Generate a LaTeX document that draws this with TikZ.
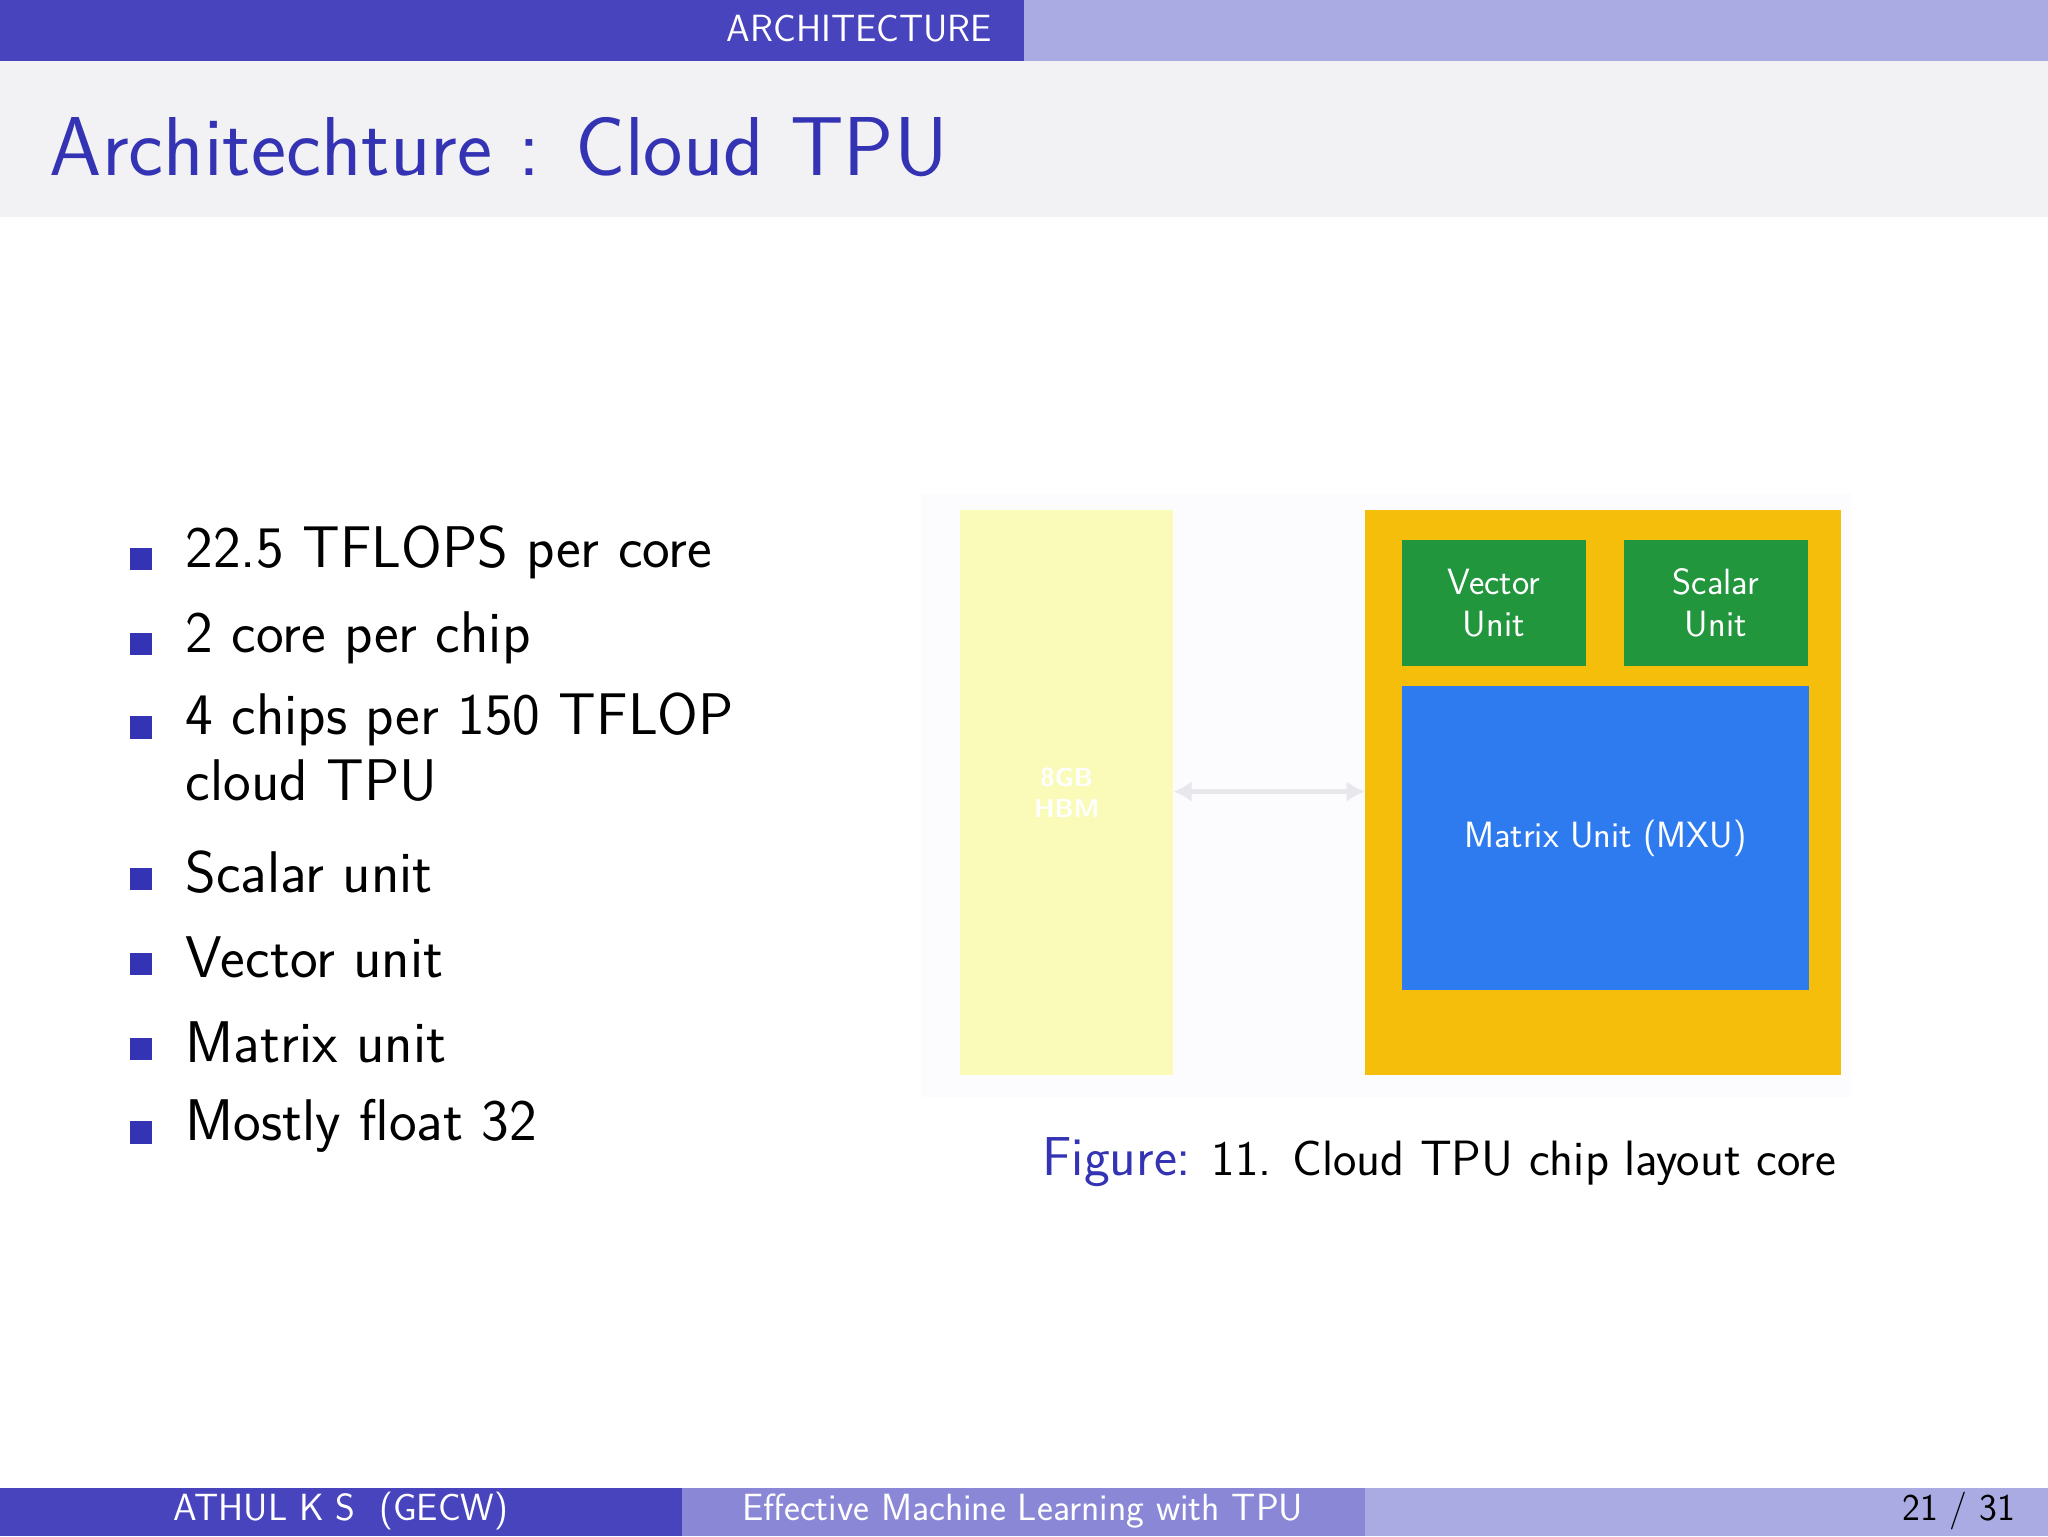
\documentclass[tikz,border=0pt]{standalone}
\usepackage{fontspec}
\setsansfont{Latin Modern Sans}
\renewcommand{\familydefault}{\sfdefault}
\usetikzlibrary{arrows.meta}
\definecolor{dk}{RGB}{72,68,190}
\definecolor{md}{RGB}{138,136,214}
\definecolor{lt}{RGB}{171,171,227}
\definecolor{tbg}{RGB}{242,242,245}
\definecolor{tcol}{RGB}{51,51,179}
\definecolor{yel}{RGB}{250,250,185}
\definecolor{org}{RGB}{244,190,10}
\definecolor{grn}{RGB}{34,150,60}
\definecolor{blu}{RGB}{46,123,240}
\definecolor{arr}{RGB}{232,232,236}
\begin{document}
\begin{tikzpicture}[x=1pt,y=-1pt,
  bul/.style={anchor=west,font=\fontsize{45}{51}\selectfont,text=black,align=left,inner sep=0pt},
  sq/.style={fill=tcol,minimum size=17pt,inner sep=0pt},
  unit/.style={fill=grn,text=white,font=\fontsize{28}{32}\selectfont,align=center,anchor=north west,inner sep=0pt}]
\useasboundingbox (0,0) rectangle (1568,1176);
\fill[white] (0,0) rectangle (1568,1176);
\fill[lt] (0,0) rectangle (1568,47);
\fill[dk] (0,0) rectangle (784,47);
\node[text=white,font=\fontsize{29}{32}\selectfont] (hd) at (658,22) {ARCHITECTURE};
\fill[tbg] (0,47) rectangle (1568,166);
\node[anchor=west,text=tcol,font=\fontsize{64}{72}\selectfont,inner sep=0pt] (title) at (38,113) {Architechture : Cloud TPU};
% bullets
\foreach \y/\t [count=\i] in {423/22.5 TFLOPS per core,488/2 core per chip,668/Scalar unit,733/Vector unit,798/Matrix unit,862/Mostly float 32}{
  \node[sq] (s\i) at (108,\y+5) {};
  \node[bul] (b\i) at (142,\y) {\t};
}
\node[sq] (s7) at (108,557) {};
\node[bul,anchor=north west] (b7) at (142,530) {4 chips per 150 TFLOP\\cloud TPU};
% figure
\fill[white!99!blue] (705,378) rectangle (1418,840);
\node[fill=yel,minimum width=163pt,minimum height=433pt,inner sep=0pt,anchor=north west,text=white,font=\fontsize{20}{24}\selectfont\bfseries,align=center] (hbm) at (735,390) {8GB\\HBM};
\node[fill=org,minimum width=364pt,minimum height=433pt,inner sep=0pt,anchor=north west] (core) at (1045,390) {};
\node[unit,minimum width=141pt,minimum height=97pt] (vec) at (1073,413) {Vector\\Unit};
\node[unit,minimum width=141pt,minimum height=97pt] (sca) at (1243,413) {Scalar\\Unit};
\node[fill=blu,text=white,minimum width=312pt,minimum height=233pt,inner sep=0pt,anchor=north west,font=\fontsize{28}{32}\selectfont] (mxu) at (1073,525) {Matrix Unit (MXU)};
\draw[arr,line width=4pt,{Latex[length=14pt,width=16pt]}-{Latex[length=14pt,width=16pt]}] (hbm.east|-0,606) -- (core.west|-0,606);
\node[anchor=west,font=\fontsize{38}{42}\selectfont,inner sep=0pt] (cap) at (798,890) {\textcolor{tcol}{\fontsize{42}{46}\selectfont Figure:} 11. Cloud TPU chip layout core};
% footer
\fill[dk] (0,1139) rectangle (522,1176);
\fill[md] (522,1139) rectangle (1045,1176);
\fill[lt] (1045,1139) rectangle (1568,1176);
\node[text=white,font=\fontsize{29}{32}\selectfont] (f1) at (261,1157) {ATHUL K S\ \ (GECW)};
\node[text=white,font=\fontsize{29}{32}\selectfont] (f2) at (783,1157) {Effective Machine Learning with TPU};
\node[anchor=east,text=black,font=\fontsize{29}{32}\selectfont,inner sep=0pt] (f3) at (1543,1157) {21 / 31};
\end{tikzpicture}
\end{document}
